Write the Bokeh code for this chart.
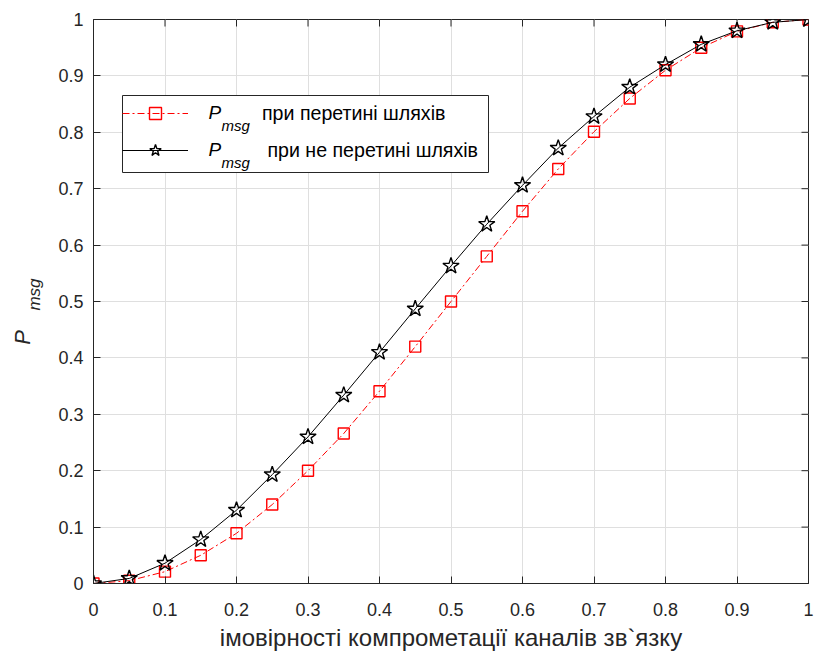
import math
from bokeh.plotting import figure
from bokeh.layouts import row
from bokeh.models import (Range1d, FixedTicker, Legend, LegendItem,
                          Label, ColumnDataSource, BoxAnnotation)
from bokeh.embed import file_html
from bokeh.resources import INLINE

# ---- data ----
x_vals = [0.0, 0.05, 0.1, 0.15, 0.2, 0.25, 0.3, 0.35, 0.4, 0.45, 0.5,
          0.55, 0.6, 0.65, 0.7, 0.75, 0.8, 0.85, 0.9, 0.95, 1.0]
p_intersect = [0.0, 0.005, 0.021, 0.05, 0.089, 0.14, 0.2, 0.266, 0.341, 0.42, 0.5,
               0.58, 0.66, 0.735, 0.801, 0.86, 0.91, 0.95, 0.979, 0.995, 1.0]
p_no_intersect = [0.0, 0.009, 0.036, 0.078, 0.13, 0.193, 0.26, 0.334, 0.41, 0.487, 0.563,
                  0.637, 0.706, 0.772, 0.828, 0.88, 0.92, 0.956, 0.98, 0.995, 1.0]
tick_vals = [0.0, 0.1, 0.2, 0.3, 0.4, 0.5, 0.6, 0.7, 0.8, 0.9, 1.0]
tick_labels = ["0", "0.1", "0.2", "0.3", "0.4", "0.5", "0.6", "0.7", "0.8", "0.9", "1"]
legend_labels = ["при перетині шляхів", "\u00a0при не перетині шляхів"]
x_label = "імовірності компрометації каналів зв`язку"
y_label_main, y_label_sub = "P", "msg"

FONT = "Liberation Sans"
AX = "#262626"
H = 651
FRAME_W, FRAME_H = 715, 564
LEFT_STRIP = 55

src = ColumnDataSource(dict(x=x_vals, a=p_intersect, b=p_no_intersect))

p = figure(frame_width=FRAME_W, frame_height=FRAME_H, output_backend="svg",
           toolbar_location=None, x_range=Range1d(0, 1), y_range=Range1d(0, 1),
           min_border_left=93 - LEFT_STRIP, min_border_top=19, min_border_right=6,
           min_border_bottom=H - 19 - FRAME_H)
p.background_fill_color = "white"
p.border_fill_color = "white"
p.outline_line_color = AX
p.outline_line_width = 1

overrides = {v: t for v, t in zip(tick_vals, tick_labels)}
for ax in (p.xaxis[0], p.yaxis[0]):
    ax.ticker = FixedTicker(ticks=tick_vals)
    ax.major_label_overrides = overrides
    ax.major_label_text_font = FONT
    ax.major_label_text_font_size = "18px"
    ax.major_label_text_color = AX
    ax.axis_line_color = AX
    ax.major_tick_line_color = AX
    ax.major_tick_in = 7
    ax.major_tick_out = 0
    ax.minor_tick_line_color = None
p.xaxis.major_label_standoff = 19
p.yaxis.major_label_standoff = 10
p.xaxis.axis_label = x_label
p.xaxis.axis_label_text_font = FONT
p.xaxis.axis_label_text_font_size = "24px"
p.xaxis.axis_label_text_font_style = "normal"
p.xaxis.axis_label_text_color = AX
p.xaxis.axis_label_standoff = 5

for g in (p.xgrid[0], p.ygrid[0]):
    g.ticker = FixedTicker(ticks=tick_vals)
    g.grid_line_color = "#dfdfdf"
    g.grid_line_width = 1

# inward ticks on top and right edges of the box (7 px long)
n = len(tick_vals)
y_top = p.y_range.end
x_right = p.x_range.end
tick_len_y = 7 * (p.y_range.end - p.y_range.start) / FRAME_H
tick_len_x = 7 * (p.x_range.end - p.x_range.start) / FRAME_W
p.segment(x0=tick_vals, y0=[y_top] * n, x1=tick_vals, y1=[y_top - tick_len_y] * n,
          line_color=AX, line_width=1)
p.segment(x0=[x_right] * n, y0=tick_vals, x1=[x_right - tick_len_x] * n, y1=tick_vals,
          line_color=AX, line_width=1)

r_line = p.line("x", "a", source=src, line_color="red", line_width=1, line_dash="7 3 2 3")
r_mark = p.scatter("x", "a", source=src, marker="square", size=11, line_color="red",
                   line_width=1.4, fill_color=None)
k_line = p.line("x", "b", source=src, line_color="black", line_width=1)
k_mark = p.scatter("x", "b", source=src, marker="star", size=17, line_color="black",
                   line_width=1.4, fill_color=None)

# legend background box (drawn below the texts; legend itself is transparent)
LG_L, LG_B, LG_W, LG_H = 29, 411, 366, 77
p.add_layout(BoxAnnotation(left=LG_L, right=LG_L + LG_W, bottom=LG_B, top=LG_B + LG_H,
                           left_units="screen", right_units="screen",
                           bottom_units="screen", top_units="screen",
                           fill_color="white", fill_alpha=1.0,
                           line_color=AX, line_alpha=1.0, line_width=1))

# P_msg in legend rows
for dy in (0, -37):
    p.add_layout(Label(x=115, y=471 + dy, x_units="screen", y_units="screen",
                       text=y_label_main, text_font=FONT, text_font_size="19px",
                       text_font_style="italic", text_color="black",
                       text_baseline="middle"))
    p.add_layout(Label(x=128, y=458 + dy, x_units="screen", y_units="screen",
                       text=y_label_sub, text_font=FONT, text_font_size="15px",
                       text_font_style="italic", text_color="black",
                       text_baseline="middle"))

legend = Legend(items=[LegendItem(label=legend_labels[0], renderers=[r_line, r_mark]),
                       LegendItem(label=legend_labels[1], renderers=[k_line, k_mark])],
                location=(LG_L, LG_B + 7), glyph_width=66, glyph_height=30, label_height=30,
                label_width=200, label_standoff=74, spacing=7, padding=5, margin=0,
                label_text_font=FONT, label_text_font_size="19.6px",
                label_text_color="black", border_line_color=None,
                background_fill_alpha=0.0)
p.add_layout(legend, "center")

# left strip holding the rotated y-axis label P_msg
s = figure(frame_width=LEFT_STRIP, frame_height=H, output_backend="svg",
           toolbar_location=None, x_range=Range1d(0, 1), y_range=Range1d(0, 1),
           x_axis_type=None, y_axis_type=None, min_border=0)
s.outline_line_color = None
s.background_fill_color = "white"
s.border_fill_color = "white"
s.xgrid.visible = False
s.ygrid.visible = False
s.add_layout(Label(x=22, y=H - 318, x_units="screen", y_units="screen", text=y_label_main,
                   angle=math.pi / 2, text_font=FONT, text_font_size="22px",
                   text_font_style="italic", text_color=AX, text_align="center",
                   text_baseline="middle"))
s.add_layout(Label(x=34, y=H - 275, x_units="screen", y_units="screen", text=y_label_sub,
                   angle=math.pi / 2, text_font=FONT, text_font_size="17px",
                   text_font_style="italic", text_color=AX, text_align="center",
                   text_baseline="middle"))

layout = row(s, p, spacing=0)
open("out.html", "w").write(file_html(layout, INLINE))
